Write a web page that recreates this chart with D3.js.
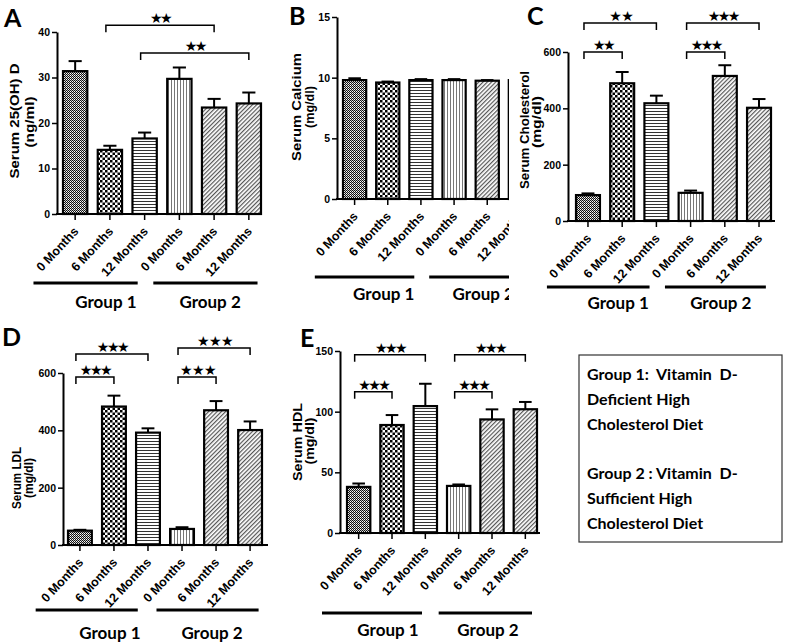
<!DOCTYPE html>
<html><head><meta charset="utf-8">
<script src="https://cdn.jsdelivr.net/npm/d3@7"></script>
<style>body{margin:0;background:#fff}svg{display:block}</style>
</head><body>
<script>
// ---------- DATA ----------
const categories = ["0 Months","6 Months","12 Months","0 Months","6 Months","12 Months"];
const groupLabels = ["Group 1","Group 2"];
const panelLetters = ["A","B","C","D","E"];

const vitDMean = [31.4, 14.1, 16.6, 29.7, 23.4, 24.3];
const vitDErr  = [2.2, 0.9, 1.3, 2.5, 1.9, 2.4];
const vitDTicks = [0, 10, 20, 30, 40];

const calciumMean = [9.8, 9.6, 9.8, 9.8, 9.75, 9.8];
const calciumErr  = [0.15, 0.08, 0.08, 0.08, 0.05, 0.05];
const calciumTicks = [0, 5, 10, 15];

const cholMean = [92, 489, 418, 100, 515, 402];
const cholErr  = [6, 40, 27, 8, 38, 31];
const cholTicks = [0, 200, 400, 600];

const ldlMean = [50, 483, 392, 56, 470, 401];
const ldlErr  = [3, 38, 15, 6, 32, 30];
const ldlTicks = [0, 200, 400, 600];

const hdlMean = [38, 89, 104.6, 38.8, 93.6, 102];
const hdlErr  = [2.8, 8.2, 18.4, 1.2, 8.3, 6];
const hdlTicks = [0, 50, 100, 150];

const vitDSig = [
  {from: 1, to: 4, level: 41.5, stars: "★★"},
  {from: 2, to: 5, level: 35.4, stars: "★★"}
];
const calciumSig = [];
const cholSig = [
  {from: 0, to: 2, level: 703, stars: "★ ★"},
  {from: 0, to: 1, level: 600, stars: "★★"},
  {from: 3, to: 5, level: 703, stars: "★★★"},
  {from: 3, to: 4, level: 600, stars: "★★★"}
];
const ldlSig = [
  {from: 0, to: 2, level: 666, stars: "★★★"},
  {from: 0, to: 1, level: 586, stars: "★★★"},
  {from: 3, to: 5, level: 687, stars: "★ ★ ★"},
  {from: 3, to: 4, level: 586, stars: "★ ★ ★"}
];
const hdlSig = [
  {from: 0, to: 2, level: 147, stars: "★★★"},
  {from: 0, to: 1, level: 116.5, stars: "★★★"},
  {from: 3, to: 5, level: 147, stars: "★★★"},
  {from: 3, to: 4, level: 116.5, stars: "★★★"}
];

const legendLines = [
  "Group 1:  Vitamin  D-", "Deficient High", "Cholesterol Diet", "",
  "Group 2 : Vitamin  D-", "Sufficient High", "Cholesterol Diet"
];

// ---------- STYLE / LAYOUT ----------
const AX_FONT = "'Liberation Sans', Arial, sans-serif";
const CAL_FONT = "Lato, 'Open Sans', sans-serif";
const patternIds = ["pFine","pCheck","pH","pV","pDiag","pDiag"];

const svg = d3.select("body").append("svg").attr("width", 786).attr("height", 643);
const defs = svg.append("defs");

function pat(id, w, h, build, transform) {
  const p = defs.append("pattern").attr("id", id).attr("patternUnits", "userSpaceOnUse")
    .attr("width", w).attr("height", h);
  if (transform) p.attr("patternTransform", transform);
  p.append("rect").attr("width", w).attr("height", h).attr("fill", "#fff");
  build(p);
}
pat("pFine", 2, 2, p => {
  p.append("rect").attr("x",0).attr("y",0).attr("width",1).attr("height",1).attr("fill","#111");
  p.append("rect").attr("x",1).attr("y",1).attr("width",1).attr("height",1).attr("fill","#111");
  p.append("rect").attr("x",1).attr("y",0).attr("width",1).attr("height",1).attr("fill","#bbb");
});
pat("pCheck", 5, 5, p => {
  p.append("rect").attr("x",0).attr("y",0).attr("width",2.5).attr("height",2.5).attr("fill","#000");
  p.append("rect").attr("x",2.5).attr("y",2.5).attr("width",2.5).attr("height",2.5).attr("fill","#000");
});
pat("pH", 3, 3, p => {
  p.append("rect").attr("x",0).attr("y",0).attr("width",3).attr("height",1).attr("fill","#333");
});
pat("pV", 3, 3, p => {
  p.append("rect").attr("x",0).attr("y",0).attr("width",1).attr("height",3).attr("fill","#777");
});
pat("pDiag", 3, 3, p => {
  p.append("rect").attr("x",0).attr("y",0).attr("width",1.2).attr("height",3).attr("fill","#555");
}, "rotate(45)");

function drawPanel(cfg) {
  const g = svg.append("g");
  if (cfg.bg) {
    g.append("rect").attr("x", cfg.bg[0]).attr("y", cfg.bg[1]).attr("width", cfg.bg[2]).attr("height", cfg.bg[3]).attr("fill", "#fff");
  }
  if (cfg.clip) {
    const id = "clip" + cfg.letter;
    defs.append("clipPath").attr("id", id).append("rect")
      .attr("x", cfg.clip[0]).attr("y", cfg.clip[1]).attr("width", cfg.clip[2]).attr("height", cfg.clip[3]);
    g.attr("clip-path", `url(#${id})`);
  }
  const x = d3.scaleBand().domain(d3.range(categories.length))
    .range([cfg.barsStart, cfg.barsEnd]).paddingInner(0.3).paddingOuter(0);
  const y = d3.scaleLinear().domain([0, cfg.ymax]).range([cfg.bottom, cfg.top]);
  const bw = x.bandwidth(), step = x.step();
  const cx = i => x(i) + bw / 2;

  // panel letter
  g.append("text").attr("x", cfg.letterPos[0]).attr("y", cfg.letterPos[1])
    .attr("font-family", CAL_FONT).attr("font-weight", 700).attr("font-size", 25).text(cfg.letter);

  // bars
  g.selectAll("rect.bar").data(cfg.mean).join("rect").attr("class", "bar")
    .attr("x", (d, i) => x(i)).attr("width", bw)
    .attr("y", d => y(d)).attr("height", d => cfg.bottom - y(d))
    .attr("fill", (d, i) => `url(#${patternIds[i]})`)
    .attr("stroke", "#000").attr("stroke-width", 2.2);

  // error bars
  const eb = g.append("g").attr("stroke", "#000").attr("stroke-width", 2);
  cfg.mean.forEach((m, i) => {
    eb.append("line").attr("x1", cx(i)).attr("x2", cx(i)).attr("y1", y(m)).attr("y2", y(m + cfg.err[i]));
    eb.append("line").attr("x1", cx(i) - bw * 0.27).attr("x2", cx(i) + bw * 0.27)
      .attr("y1", y(m + cfg.err[i])).attr("y2", y(m + cfg.err[i]));
  });

  // y axis
  const ya = g.append("g").attr("transform", `translate(${cfg.left},0)`)
    .call(d3.axisLeft(y).tickValues(cfg.ticks).tickSize(5).tickPadding(2).tickSizeOuter(0));
  ya.select(".domain").attr("stroke-width", 2);
  ya.selectAll(".tick line").attr("stroke-width", 1.5);
  ya.selectAll("text").attr("font-family", AX_FONT).attr("font-weight", 700).attr("font-size", 10.5)
    .attr("fill", "#000");

  // x axis
  const xa = g.append("g");
  xa.append("line").attr("x1", cfg.left - 1).attr("x2", cfg.axisEnd).attr("y1", cfg.bottom).attr("y2", cfg.bottom)
    .attr("stroke", "#000").attr("stroke-width", 2);
  categories.forEach((c, i) => {
    xa.append("line").attr("x1", cx(i)).attr("x2", cx(i)).attr("y1", cfg.bottom).attr("y2", cfg.bottom + 6)
      .attr("stroke", "#000").attr("stroke-width", 1.5);
    xa.append("text").attr("transform", `translate(${cx(i) + 4},${cfg.bottom + 18}) rotate(-47)`)
      .attr("text-anchor", "end").attr("font-family", AX_FONT).attr("font-weight", 700)
      .attr("font-size", 12.5).text(c);
  });

  // y label
  cfg.ylabel.forEach(l => {
    g.append("text").attr("transform", `translate(${l.x},${l.cy}) rotate(-90)`)
      .attr("text-anchor", "middle").attr("font-family", AX_FONT).attr("font-weight", 700)
      .attr("font-size", l.fs).attr("textLength", l.len).attr("lengthAdjust", "spacingAndGlyphs")
      .text(l.text);
  });

  // group lines & labels
  groupLabels.forEach((gl, k) => {
    const a = cx(k * 3) + cfg.groupSpan[k][0] * step;
    const b = cx(k * 3 + 2) + cfg.groupSpan[k][1] * step;
    g.append("line").attr("x1", a).attr("x2", b).attr("y1", cfg.groupLineY).attr("y2", cfg.groupLineY)
      .attr("stroke", "#000").attr("stroke-width", 3);
    g.append("text").attr("x", cx(k * 3 + 1) + cfg.groupTextDx).attr("y", cfg.groupTextY)
      .attr("text-anchor", "middle").attr("font-family", CAL_FONT).attr("font-weight", 700)
      .attr("font-size", 17).text(gl);
  });

  // significance brackets
  cfg.sig.forEach(s => {
    const yy = y(s.level), x1 = cx(s.from) - 4, x2 = cx(s.to);
    g.append("path").attr("d", `M${x1},${yy + 7}V${yy}H${x2}V${yy + 7}`)
      .attr("fill", "none").attr("stroke", "#000").attr("stroke-width", 1.5);
    g.append("text").attr("x", (x1 + x2) / 2).attr("y", yy - 2).attr("text-anchor", "middle")
      .attr("font-family", "'DejaVu Sans', sans-serif").attr("font-size", 14).attr("letter-spacing", -2.5)
      .text(s.stars);
  });
}

drawPanel({letter: "A", letterPos: [4, 27], left: 57, bottom: 214, top: 32, ymax: 40,
  barsStart: 63, barsEnd: 261, axisEnd: 262, mean: vitDMean, err: vitDErr, ticks: vitDTicks, sig: vitDSig,
  ylabel: [{text: "Serum 25(OH) D", x: 19, cy: 121, len: 115, fs: 13},
           {text: "(ng/ml)", x: 34, cy: 122, len: 51, fs: 13}],
  groupSpan: [[-1.2, -0.2], [-0.75, 0.25]], groupTextDx: -4, groupLineY: 283, groupTextY: 308});

drawPanel({letter: "B", letterPos: [289, 25], left: 337, bottom: 199, top: 17, ymax: 15,
  barsStart: 343, barsEnd: 532, axisEnd: 535, mean: calciumMean, err: calciumErr, ticks: calciumTicks, sig: calciumSig,
  ylabel: [{text: "Serum Calcium", x: 301, cy: 107, len: 108, fs: 13},
           {text: "(mg/dl)", x: 314, cy: 107, len: 42, fs: 12}],
  groupSpan: [[-1.2, -0.2], [-0.75, 0.25]], groupTextDx: -4, groupLineY: 277, groupTextY: 300,
  clip: [0, 0, 509, 330]});

drawPanel({letter: "C", letterPos: [527, 25], left: 568, bottom: 221, top: 52, ymax: 600,
  barsStart: 576, barsEnd: 771, axisEnd: 775, mean: cholMean, err: cholErr, ticks: cholTicks, sig: cholSig,
  ylabel: [{text: "Serum Cholesterol", x: 529, cy: 130, len: 118, fs: 12},
           {text: "(mg/dl)", x: 541, cy: 122, len: 52, fs: 12}],
  groupSpan: [[-1.2, -0.2], [-0.75, 0.2]], groupTextDx: -4, groupLineY: 287, groupTextY: 309,
  bg: [509, 0, 277, 318]});

drawPanel({letter: "D", letterPos: [2, 346], left: 63, bottom: 545, top: 373, ymax: 600,
  barsStart: 68, barsEnd: 262, axisEnd: 268, mean: ldlMean, err: ldlErr, ticks: ldlTicks, sig: ldlSig,
  ylabel: [{text: "Serum LDL", x: 21, cy: 478, len: 62, fs: 12},
           {text: "(mg/dl)", x: 33, cy: 478, len: 40, fs: 12}],
  groupSpan: [[-1.3, -0.3], [-0.75, 0.25]], groupTextDx: -4, groupLineY: 610, groupTextY: 639});

drawPanel({letter: "E", letterPos: [300, 347], left: 340, bottom: 533, top: 351, ymax: 150,
  barsStart: 347, barsEnd: 537, axisEnd: 540, mean: hdlMean, err: hdlErr, ticks: hdlTicks, sig: hdlSig,
  ylabel: [{text: "Serum HDL", x: 302, cy: 442, len: 78, fs: 12},
           {text: "(mg/dl)", x: 314, cy: 441, len: 47, fs: 12}],
  groupSpan: [[-1.1, -0.1], [-0.6, 0.2]], groupTextDx: -4, groupLineY: 613, groupTextY: 636});

// legend box
const lg = svg.append("g");
lg.append("rect").attr("x", 579).attr("y", 355).attr("width", 203).attr("height", 187)
  .attr("fill", "#fff").attr("stroke", "#333").attr("stroke-width", 1.2);
lg.selectAll("text").data(legendLines).join("text")
  .attr("x", 587).attr("y", (d, i) => 380 + i * 24.8)
  .attr("font-family", CAL_FONT).attr("font-weight", 700).attr("font-size", 16)
  .attr("xml:space", "preserve").style("white-space", "pre").text(d => d);
</script>
</body></html>
